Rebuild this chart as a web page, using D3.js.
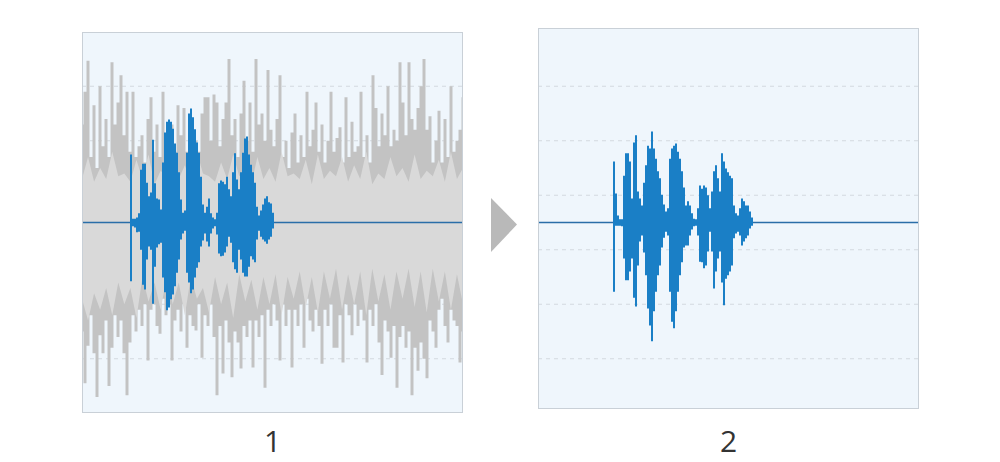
<!DOCTYPE html>
<html><head><meta charset="utf-8">
<script src="https://cdn.jsdelivr.net/npm/d3@7"></script>
<style>html,body{margin:0;padding:0;background:#fff;} svg{display:block;}</style>
</head><body><svg id="c" width="1000" height="462"></svg>
<script>
// ---------- data ----------
const panelLabels = ["1", "2"];
const gridLevels = [-2.5, -1.5, -0.5, 0.5, 1.5, 2.5];
const noiseStepMs = 3;
const speechStepMs = 2;
const speech1StartMs = 48;
const speech2StartMs = 75;
const bandStepMs = 381 / 63;

// noise (panel 1), amplitude above / below the zero line
const noiseUpper = [1.8,2.4,2.97,1.2,2.15,1.0,2.5,1.4,1.9,1.2,
  2.94,1.8,2.2,2.7,1.6,2.4,1.3,2.4,1.2,1.4,
  1.6,1.1,1.9,2.3,1.3,1.8,1.2,2.4,1.5,1.3,
  1.8,1.3,2.15,1.6,2.1,1.3,1.6,1.2,1.5,1.3,
  2.0,2.3,2.3,1.5,2.35,2.2,1.4,1.9,2.2,3.0,
  1.6,1.9,1.2,2.0,2.6,1.5,2.2,1.3,3.0,1.8,
  2.0,1.5,2.8,1.7,1.4,1.9,2.7,1.2,1.5,1.0,
  1.65,2.0,1.1,1.6,1.2,2.4,1.4,1.7,2.2,1.3,
  1.8,1.1,1.5,2.4,1.3,1.55,1.75,1.1,2.3,1.2,
  1.85,1.3,1.4,2.4,1.2,1.6,1.1,2.7,2.1,1.4,
  2.0,1.6,2.5,1.4,1.7,1.5,2.94,2.2,1.6,2.94,
  1.9,1.7,2.1,2.5,3.0,1.7,1.95,1.1,1.5,2.05,
  1.1,1.9,1.2,2.5,1.3,1.5,1.7,2.3];
const noiseLower = [2.0,2.95,2.26,1.7,2.4,3.2,2.07,2.4,1.8,3.0,
  2.3,1.7,2.1,1.8,2.4,3.17,2.2,1.7,2.0,1.6,
  1.9,1.5,2.53,1.6,1.5,1.9,2.04,1.4,1.7,1.5,
  2.53,1.8,1.6,2.0,1.5,2.3,1.7,1.9,1.98,1.5,
  2.48,1.7,1.9,1.5,2.1,3.17,1.9,2.77,1.8,2.2,
  2.84,2.0,2.2,2.68,1.9,2.1,1.8,2.66,1.8,2.1,
  1.7,3.03,1.6,1.9,1.5,1.8,2.53,1.5,1.9,1.6,
  2.66,1.6,1.9,1.5,2.3,1.4,1.8,2.0,1.6,1.9,
  2.59,1.6,1.9,1.5,2.3,2.3,1.7,2.57,1.5,1.7,
  2.07,1.5,1.9,1.6,1.8,2.57,1.6,1.9,1.5,2.2,
  2.8,1.8,2.0,2.48,1.9,3.03,2.1,1.9,2.3,2.0,
  3.17,2.3,2.72,2.2,2.5,2.86,1.8,2.0,2.3,1.6,
  1.4,1.9,2.2,1.6,1.8,1.9,2.57,2.0];
// dense core of the noise band
const bandUpper = [0.8,1.2,0.75,1.0,0.8,1.3,0.85,0.9,0.75,1.15,0.8,1.25,0.7,0.95,0.85,1.2,
  0.8,1.05,0.75,1.3,0.9,0.85,0.75,1.1,0.8,1.25,0.85,0.95,0.7,1.2,0.8,1.0,
  0.75,1.3,0.85,0.9,0.8,1.15,0.7,1.25,0.8,0.95,0.85,1.2,0.75,1.05,0.8,1.3,
  0.7,0.9,0.8,1.2,0.85,1.0,0.75,1.25,0.8,0.95,0.85,1.15,0.75,1.3,0.8,1.0];
const bandLower = [1.4,1.8,1.3,1.6,1.2,1.7,1.1,1.5,1.2,1.75,1.0,1.45,1.1,1.6,1.0,1.5,
  1.1,1.7,1.0,1.4,1.2,1.65,1.0,1.5,1.1,1.75,0.95,1.45,1.05,1.6,1.0,1.5,
  0.95,1.7,1.0,1.4,0.9,1.55,1.0,1.65,0.9,1.4,0.85,1.6,0.95,1.5,0.9,1.7,
  0.85,1.45,0.95,1.6,0.9,1.4,0.85,1.55,0.9,1.65,0.85,1.45,0.9,1.6,0.95,1.5];

// speech in panel 1 (noisy recording)
const speech1Upper = [1.25,0.07,0.07,0.09,0.17,0.97,1.08,1.08,0.73,0.48,
  0.55,1.52,0.72,0.44,0.42,0.24,1.10,1.65,1.85,1.89,
  1.85,1.72,1.45,1.28,0.92,0.42,0.18,0.22,1.28,2.00,
  2.09,1.93,1.71,1.47,1.28,0.84,0.33,0.18,0.29,0.44,
  0.17,0.09,0.06,0.18,0.72,0.77,0.75,0.70,0.84,0.61,
  0.48,0.92,1.27,0.79,0.61,0.92,1.28,1.54,1.58,1.25,
  1.06,0.92,0.73,0.29,0.13,0.22,0.33,0.44,0.48,0.37,
  0.35,0.18,0.06];
const speech1Lower = [1.08,0.07,0.09,0.18,0.17,0.50,1.14,1.23,0.68,0.44,
  0.50,1.49,0.81,0.46,0.40,0.37,1.01,1.28,1.61,1.56,
  1.41,1.32,1.17,0.92,0.68,0.31,0.20,0.15,0.92,1.10,
  1.30,1.23,1.01,0.83,0.73,0.44,0.33,0.20,0.35,0.44,
  0.20,0.11,0.07,0.22,0.57,0.62,0.61,0.55,0.44,0.26,
  0.37,0.73,0.86,0.92,0.50,0.68,0.92,0.99,0.99,0.81,
  0.62,0.68,0.73,0.31,0.15,0.26,0.31,0.35,0.39,0.31,
  0.26,0.11,0.04];

// speech in panel 2 (noise removed)
const speech2Upper = [1.12,0.53,0.13,0.06,0.06,0.86,1.27,1.27,1.12,0.44,
  1.47,1.60,0.57,0.44,0.31,0.73,1.05,1.41,1.36,1.67,
  1.36,1.17,0.94,0.81,0.51,0.33,0.20,0.26,1.17,1.36,
  1.41,1.45,1.30,1.17,0.94,0.64,0.31,0.39,0.31,0.17,
  0.07,0.06,0.26,0.68,0.62,0.68,0.64,0.50,0.26,0.57,
  0.94,1.05,0.81,0.57,1.27,1.12,0.99,0.92,0.86,0.81,
  0.31,0.17,0.13,0.26,0.44,0.39,0.31,0.31,0.20,0.09,0.04];
const speech2Lower = [1.27,0.06,0.06,0.06,0.07,0.66,1.06,1.06,0.90,0.66,
  1.38,1.54,0.79,0.35,0.24,0.55,0.97,1.58,1.89,2.18,
  1.63,1.27,0.97,0.79,0.46,0.28,0.17,0.24,1.27,1.82,
  1.94,1.63,1.27,0.97,0.73,0.46,0.42,0.42,0.24,0.13,
  0.07,0.06,0.24,0.72,0.73,0.84,0.79,0.53,0.17,0.53,
  1.21,0.90,0.66,0.53,1.10,1.52,1.03,0.97,0.90,0.79,
  0.29,0.20,0.17,0.24,0.42,0.35,0.29,0.24,0.11,0.06,0.04];

// ---------- layout / style ----------
const panels = [
  {x: 82, y: 32, size: 381, label: panelLabels[0], noise: true,
   speechUpper: speech1Upper, speechLower: speech1Lower, start: speech1StartMs},
  {x: 538, y: 28, size: 381, label: panelLabels[1], noise: false,
   speechUpper: speech2Upper, speechLower: speech2Lower, start: speech2StartMs}
];
const baseY = 222.5;
const C = {bg: "#eff6fc", border: "#c9d0d7", grid: "#d3d9df", noise: "#c3c3c3",
           band: "#d9d9d9", speech: "#1a7fc6", base: "#2a6ea8", arrow: "#b9b9b9", text: "#333"};

const svg = d3.select("#c");
const y = d3.scaleLinear().domain([-3.5, 3.5]).range([baseY + 190.75, baseY - 190.75]);

panels.forEach((p, pi) => {
  const x = d3.scaleLinear().domain([0, 381]).range([p.x, p.x + p.size]);
  const g = svg.append("g");
  const clipId = "clip" + pi;
  svg.append("clipPath").attr("id", clipId).append("rect")
    .attr("x", p.x).attr("y", p.y).attr("width", p.size).attr("height", p.size);
  g.append("rect").attr("x", p.x).attr("y", p.y).attr("width", p.size).attr("height", p.size)
    .attr("fill", C.bg);
  const inner = g.append("g").attr("clip-path", `url(#${clipId})`);
  inner.selectAll("line.grid").data(gridLevels).enter().append("line")
    .attr("class", "grid")
    .attr("x1", p.x).attr("x2", p.x + p.size)
    .attr("y1", d => y(d)).attr("y2", d => y(d))
    .attr("stroke", C.grid).attr("stroke-width", 1).attr("stroke-dasharray", "4,4");

  if (p.noise) {
    const noiseArea = d3.area()
      .x((d, i) => x(i * noiseStepMs))
      .y0((d, i) => y(-noiseLower[i]))
      .y1((d, i) => y(noiseUpper[i]))
      .curve(d3.curveStep);
    inner.append("path").datum(noiseUpper).attr("d", noiseArea).attr("fill", C.noise);
    const bandArea = d3.area()
      .x((d, i) => x(i * bandStepMs))
      .y0((d, i) => y(-bandLower[i]))
      .y1((d, i) => y(bandUpper[i]))
      .curve(d3.curveLinear);
    inner.append("path").datum(bandUpper).attr("d", bandArea).attr("fill", C.band);
  }

  inner.append("line").attr("x1", p.x).attr("x2", p.x + p.size)
    .attr("y1", y(0)).attr("y2", y(0)).attr("stroke", C.base).attr("stroke-width", 1.6);

  const speechArea = d3.area()
    .x((d, i) => x(p.start + i * speechStepMs))
    .y0((d, i) => y(-p.speechLower[i]))
    .y1((d, i) => y(p.speechUpper[i]))
    .curve(d3.curveStepAfter);
  inner.append("path").datum(p.speechUpper).attr("d", speechArea).attr("fill", C.speech);

  g.append("rect").attr("x", p.x + 0.5).attr("y", p.y + 0.5)
    .attr("width", p.size - 1).attr("height", p.size - 1)
    .attr("fill", "none").attr("stroke", C.border).attr("stroke-width", 1);

  svg.append("text").attr("x", p.x + p.size / 2).attr("y", 452)
    .attr("text-anchor", "middle").attr("font-family", "'Open Sans', 'DejaVu Sans', sans-serif")
    .attr("font-size", 30).attr("fill", C.text).text(p.label);
});

// arrow between panels
const arrowPts = [[491, 198], [517, 224.5], [491, 252]];
svg.append("path").attr("d", d3.line()(arrowPts) + "Z").attr("fill", C.arrow);
</script></body></html>
